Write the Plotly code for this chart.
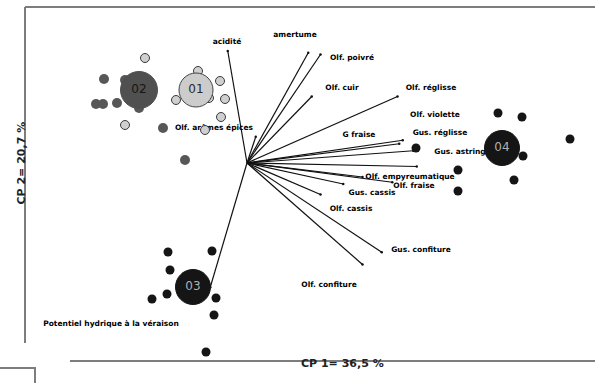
import plotly.graph_objects as go

# --- Variable loadings (correlation circle units) ---
variables = [
    "acidité", "amertume", "Olf. poivré", "Olf. cuir", "Olf. réglisse",
    "Olf. violette", "G fraise", "Gus. réglisse", "Gus. astring",
    "Olf. empyreumatique", "Olf. fraise", "Gus. cassis", "Olf. cassis",
    "Gus. confiture", "Olf. confiture", "Potentiel hydrique à la véraison",
    "Olf. arômes épices",
]
load_x = [-0.11, 0.35, 0.42, 0.37, 0.86, 0.87, 0.89, 0.95, 0.97,
          0.66, 0.83, 0.55, 0.42, 0.77, 0.66, -0.21, 0.05]
load_y = [0.64, 0.63, 0.62, 0.38, 0.38, 0.11, 0.13, 0.07, -0.02,
          -0.08, -0.11, -0.12, -0.18, -0.51, -0.58, -0.71, 0.15]
# label anchor points (score units)
label_x = [-0.40, 0.96, 2.10, 1.90, 3.68, 3.76, 2.24, 3.86, 4.26,
           3.26, 3.34, 2.50, 2.08, 3.48, 1.64, -2.72, -0.66]
label_y = [2.42, 2.56, 2.10, 1.50, 1.50, 0.96, 0.56, 0.60, 0.22,
           -0.28, -0.46, -0.60, -0.92, -1.74, -2.44, -3.22, 0.70]

# --- Individual scores per group ---
g01_x = [-2.04, -0.98, -0.54, -0.44, -1.42, -0.76, -0.52, -2.44, -0.84]
g01_y = [2.10, 1.84, 1.64, 1.28, 1.26, 1.30, 0.92, 0.76, 0.66]
g02_x = [-2.86, -3.02, -2.88, -2.60, -2.44, -2.16, -1.68, -1.24]
g02_y = [1.68, 1.18, 1.18, 1.20, 1.66, 1.10, 0.70, 0.06]
g03_x = [-1.58, -0.70, -1.54, -1.60, -1.90, -0.62, -0.66, -0.82]
g03_y = [-1.78, -1.76, -2.14, -2.62, -2.72, -2.70, -3.04, -3.78]
g04_x = [5.02, 5.50, 6.46, 5.52, 4.22, 5.34, 4.22, 3.38]
g04_y = [1.00, 0.92, 0.48, 0.14, -0.14, -0.34, -0.56, 0.30]

# group barycentres
groups = ["01", "02", "03", "04"]
cent_x = [-1.02, -2.16, -1.08, 5.10]
cent_y = [1.46, 1.46, -2.48, 0.30]

axis_x_title = "CP 1= 36,5 %"
axis_y_title = "CP 2= 20,7 %"

ARROW_SCALE = 3.5  # stretch loadings onto the score plane

W, H = 595, 383
X_RANGE = [-4.94, 6.96]
Y_RANGE = [-4.40, 3.26]

fig = go.Figure()

# arrows from the origin
ax_, ay_ = [], []
for lx, ly in zip(load_x, load_y):
    ax_ += [0, lx * ARROW_SCALE, None]
    ay_ += [0, ly * ARROW_SCALE, None]
fig.add_trace(go.Scatter(x=ax_, y=ay_, mode="lines",
                         line=dict(color="#111111", width=1.2),
                         hoverinfo="skip", showlegend=False))
fig.add_trace(go.Scatter(x=[v * ARROW_SCALE for v in load_x],
                         y=[v * ARROW_SCALE for v in load_y],
                         mode="markers", marker=dict(size=2.5, color="#111111"),
                         hoverinfo="skip", showlegend=False))

# variable names
fig.add_trace(go.Scatter(x=label_x, y=label_y, mode="text",
                         text=[f"<b>{v}</b>" for v in variables],
                         textposition="middle center",
                         textfont=dict(family="DejaVu Sans", size=7.5, color="#000000"),
                         hoverinfo="skip", showlegend=False))

# individuals
fig.add_trace(go.Scatter(x=g01_x, y=g01_y, mode="markers",
                         marker=dict(size=9, color="#cfcfcf", opacity=1,
                                     line=dict(color="#3a3a3a", width=1)),
                         showlegend=False))
fig.add_trace(go.Scatter(x=g02_x, y=g02_y, mode="markers",
                         marker=dict(size=10, color="#575757", opacity=1, line=dict(width=0)),
                         showlegend=False))
fig.add_trace(go.Scatter(x=g03_x, y=g03_y, mode="markers",
                         marker=dict(size=9, color="#151515", opacity=1, line=dict(width=0)),
                         showlegend=False))
fig.add_trace(go.Scatter(x=g04_x, y=g04_y, mode="markers",
                         marker=dict(size=9, color="#151515", opacity=1, line=dict(width=0)),
                         showlegend=False))

# barycentres
cent_fill = ["#cccccc", "#505050", "#151515", "#151515"]
cent_line = ["#444444", "#505050", "#151515", "#151515"]
cent_text = ["#2a2a2a", "#151515", "#b0b0b0", "#b0b0b0"]
fig.add_trace(go.Scatter(x=cent_x, y=cent_y, mode="markers+text", text=groups,
                         textposition="middle center",
                         marker=dict(size=[34, 37, 35, 35], color=cent_fill, opacity=1,
                                     line=dict(color=cent_line, width=1)),
                         textfont=dict(family="DejaVu Sans", size=12, color=cent_text),
                         showlegend=False))


def px(x):
    return x / W


def py(y):
    return 1 - y / H


frame = dict(color="#7d7d7d", width=2)
shapes = [
    dict(type="line", xref="paper", yref="paper", x0=px(25), y0=py(7), x1=px(596), y1=py(7), line=frame),
    dict(type="line", xref="paper", yref="paper", x0=px(25), y0=py(7), x1=px(25), y1=py(343), line=frame),
    dict(type="line", xref="paper", yref="paper", x0=px(70), y0=py(361), x1=px(596), y1=py(361), line=frame),
    dict(type="path", xref="paper", yref="paper",
         path=f"M {px(-1)} {py(368)} L {px(35)} {py(368)} L {px(35)} {py(384)}", line=frame),
]

annotations = [
    dict(text=f"<b>{axis_x_title}</b>", xref="paper", yref="paper", x=px(342), y=py(372),
         showarrow=False, font=dict(family="DejaVu Sans", size=11, color="#222222")),
    dict(text=f"<b>{axis_y_title}</b>", xref="paper", yref="paper", x=px(12), y=py(163),
         textangle=-90, showarrow=False,
         font=dict(family="DejaVu Sans", size=11, color="#222222")),
]

fig.update_layout(
    width=W, height=H, margin=dict(l=0, r=0, t=0, b=0),
    paper_bgcolor="white", plot_bgcolor="white",
    xaxis=dict(range=X_RANGE, visible=False, fixedrange=True),
    yaxis=dict(range=Y_RANGE, visible=False, fixedrange=True),
    shapes=shapes, annotations=annotations, showlegend=False,
)

fig.write_html("out.html")
